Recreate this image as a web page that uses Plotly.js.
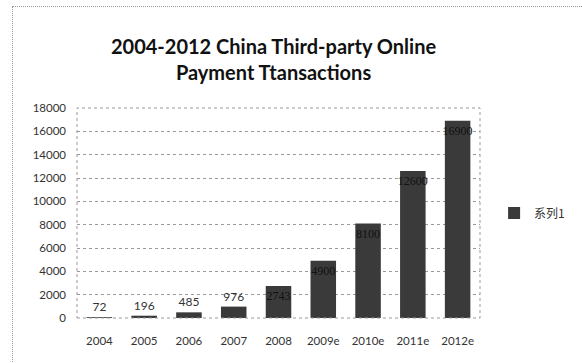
<!DOCTYPE html>
<html>
<head>
<meta charset="utf-8">
<script src="https://cdn.plot.ly/plotly-3.0.1.min.js"></script>
<style>
  html, body { margin: 0; padding: 0; background: #fff; }
  #frame { position: absolute; left: 12px; top: 6px; width: 600px; height: 400px; border: 1px dotted #999; box-sizing: border-box; pointer-events: none; }
  #chart { position: absolute; left: 0; top: 0; width: 582px; height: 363px; }
</style>
</head>
<body>
<div id="chart"></div>
<div id="frame"></div>
<script>
const categories = ['2004', '2005', '2006', '2007', '2008', '2009e', '2010e', '2011e', '2012e'];
const values = [72, 196, 485, 976, 2743, 4900, 8100, 12600, 16900];
const labels = ['72', '196', '485', '976', '2743', '4900', '8100', '12600', '16900'];
const seriesName = '系列1';
const titleText = '2004-2012 China Third-party Online<br>Payment Ttansactions';

const trace = {
  type: 'bar',
  x: categories,
  y: values,
  name: seriesName,
  text: labels,
  textposition: 'auto',
  textangle: 0,
  insidetextanchor: 'end',
  constraintext: 'none',
  insidetextfont: { family: 'Liberation Serif, serif', size: 12, color: '#111' },
  outsidetextfont: { family: 'Lato, sans-serif', size: 12, color: '#333' },
  marker: { color: '#3a3a3a', line: { width: 0 } },
  cliponaxis: false,
  showlegend: true
};

const layout = {
  width: 582,
  height: 363,
  margin: { l: 77, r: 78, t: 108, b: 45 },
  paper_bgcolor: '#ffffff',
  plot_bgcolor: '#ffffff',
  bargap: 0.43,
  title: {
    text: titleText,
    font: { family: 'Lato, sans-serif', size: 20, color: '#111', weight: 'bold' },
    x: 0.47, xref: 'container', xanchor: 'center',
    y: 1.1, yref: 'paper', yanchor: 'bottom'
  },
  xaxis: {
    type: 'category',
    showgrid: false,
    showline: false,
    ticks: '',
    ticklabelstandoff: 14,
    tickfont: { family: 'Lato, sans-serif', size: 11.5, color: '#333' }
  },
  yaxis: {
    range: [0, 18000],
    dtick: 2000,
    tick0: 0,
    tickformat: 'd',
    showgrid: true,
    gridcolor: '#9a9a9a',
    griddash: 'dot',
    gridwidth: 1,
    zeroline: false,
    showline: false,
    ticks: '',
    ticklabelstandoff: 10,
    tickfont: { family: 'Lato, sans-serif', size: 11.5, color: '#333' }
  },
  shapes: [
    { type: 'rect', xref: 'paper', yref: 'paper', x0: 0, x1: 1, y0: 0, y1: 1,
      line: { color: '#999', width: 1, dash: 'dot' }, fillcolor: 'rgba(0,0,0,0)', layer: 'above' }
  ],
  legend: {
    x: 1.035, xanchor: 'left', y: 0.5, yanchor: 'middle',
    font: { family: 'Noto Sans CJK SC, sans-serif', size: 12, color: '#333' },
    itemwidth: 30,
    bgcolor: 'rgba(0,0,0,0)'
  }
};

Plotly.newPlot('chart', [trace], layout, { displayModeBar: false, staticPlot: true });
</script>
</body>
</html>
